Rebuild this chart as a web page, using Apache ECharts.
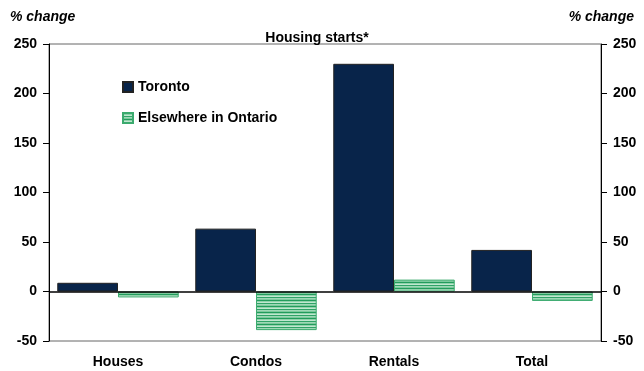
<!DOCTYPE html>
<html><head><meta charset="utf-8">
<script src="https://cdn.jsdelivr.net/npm/echarts@6/dist/echarts.min.js"></script>
<style>html,body{margin:0;padding:0;background:#fff}#c{width:644px;height:371px}</style>
</head><body><div id="c"></div>
<script>
var categories = ['Houses', 'Condos', 'Rentals', 'Total'];
var toronto = [8.8, 63.5, 230, 42];
var elsewhere = [-6, -39, 12, -9.5];
var yTicks = {min: -50, max: 250, step: 50};

function stripes() {
  var c = document.createElement('canvas');
  c.width = 4; c.height = 6;
  var g = c.getContext('2d');
  var rows = ['#229C5C', '#8FD2AB', '#BFE7CF', '#2FA367', '#9ED8B6', '#7CC99D'];
  for (var i = 0; i < rows.length; i++) { g.fillStyle = rows[i]; g.fillRect(0, i, 4, 1); }
  return c;
}
var font = 'Liberation Sans, Arial, sans-serif';
var chart = echarts.init(document.getElementById('c'), null, {renderer: 'canvas'});
var yAx = function (pos) {
  return {
    type: 'value', position: pos, min: yTicks.min, max: yTicks.max, interval: yTicks.step,
    splitLine: {show: false},
    axisLine: {show: true, onZero: false, lineStyle: {color: '#000', width: 1}},
    axisTick: {show: true, inside: false, length: 6, lineStyle: {color: '#000'}},
    axisLabel: {color: '#000', fontWeight: 'bold', fontSize: 14, fontFamily: font, margin: 12}
  };
};
chart.setOption({
  animation: false,
  title: [
    {text: 'Housing starts*', left: 312, top: 26, textAlign: 'center',
     textStyle: {fontSize: 14, fontWeight: 'bold', color: '#000', fontFamily: font}},
    {text: '% change', left: 5, top: 5,
     textStyle: {fontSize: 14, fontWeight: 'bold', fontStyle: 'italic', color: '#000', fontFamily: font}},
    {text: '% change', right: 5, top: 5,
     textStyle: {fontSize: 14, fontWeight: 'bold', fontStyle: 'italic', color: '#000', fontFamily: font}}
  ],
  legend: {
    orient: 'vertical', left: 117, top: 75, itemGap: 17, itemWidth: 10, itemHeight: 10,
    icon: 'rect',
    textStyle: {fontSize: 14, fontWeight: 'bold', color: '#000', fontFamily: font, padding: [0, 0, 0, 0]},
    data: ['Toronto', 'Elsewhere in Ontario']
  },
  grid: {left: 49, right: 43, top: 44, bottom: 30, show: true, borderColor: '#666', borderWidth: 1, backgroundColor: 'transparent'},
  xAxis: {
    type: 'category', data: categories,
    axisLine: {show: false}, axisTick: {show: false},
    axisLabel: {color: '#000', fontWeight: 'bold', fontSize: 14, fontFamily: font, margin: 14}
  },
  yAxis: [yAx('left'), yAx('right')],
  series: [
    {name: 'Toronto', type: 'bar', data: toronto, barGap: '0%', barCategoryGap: '12%',
     itemStyle: {color: '#08244A', borderColor: '#222', borderWidth: 1},
     markLine: {silent: true, symbol: 'none', label: {show: false},
       lineStyle: {color: '#000', width: 1.5, type: 'solid'}, data: [{yAxis: 0}]}},
    {name: 'Elsewhere in Ontario', type: 'bar', data: elsewhere, barGap: '0%', barCategoryGap: '12%',
     itemStyle: {color: {image: stripes(), repeat: 'repeat'}, borderColor: '#3BAA6E', borderWidth: 1}}
  ]
});
</script></body></html>
